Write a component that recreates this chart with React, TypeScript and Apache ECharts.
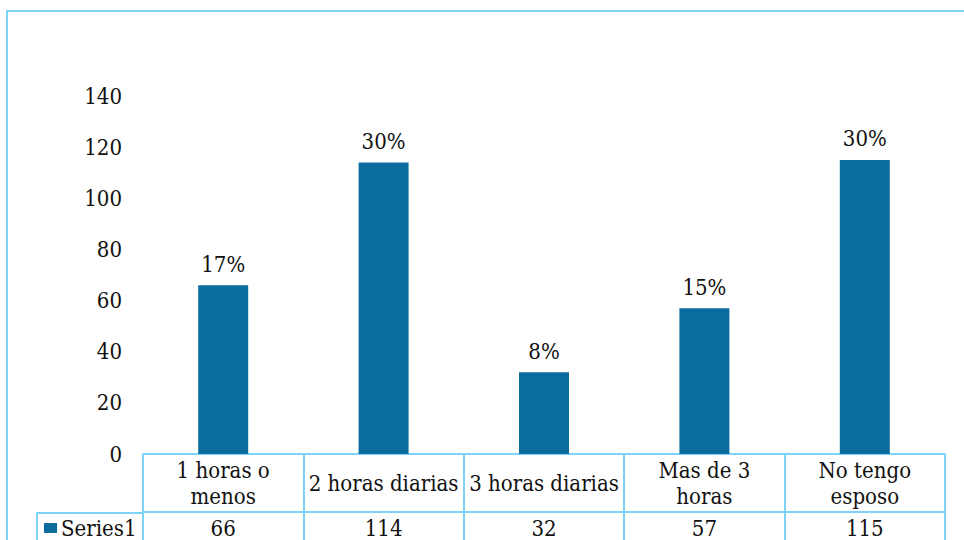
import React, { useEffect, useRef } from "react";
import * as echarts from "echarts";

// Horas diarias de ayuda del esposo
const categories = [
  "1 horas o\nmenos",
  "2 horas diarias",
  "3 horas diarias",
  "Mas de 3\nhoras",
  "No tengo\nesposo",
];
const values = [66, 114, 32, 57, 115];
const seriesName = "Series1";
const yTicks = { min: 0, max: 140, interval: 20 };

const FONT = "'DejaVu Serif Condensed', 'DejaVu Serif', serif";
const FS = 22;
const BAR = "#0b6d9e";
const LINE = "#7dd3f8";

export default function App() {
  const ref = useRef<HTMLDivElement>(null);

  useEffect(() => {
    if (!ref.current) return;
    const chart = echarts.init(ref.current, null, { renderer: "svg" });
    const total = values.reduce((a, b) => a + b, 0);

    chart.setOption({
      animation: false,
      backgroundColor: "#ffffff",
      textStyle: { fontFamily: FONT },
      grid: { left: 143, right: 19, top: 96, bottom: 86, containLabel: false },
      legend: {
        left: 44,
        top: 515,
        padding: 0,
        icon: "rect",
        itemWidth: 13,
        itemHeight: 10,
        data: [seriesName],
        textStyle: { fontFamily: FONT, fontSize: FS, color: "#111", lineHeight: 26, padding: [0, 0, 0, -1] },
      },
      xAxis: [
        {
          type: "category",
          data: categories,
          position: "bottom",
          axisLine: { show: true, lineStyle: { color: LINE, width: 2 } },
          axisTick: { show: true, length: 58, lineStyle: { color: LINE, width: 2 } },
          axisLabel: {
            interval: 0,
            margin: 29,
            verticalAlign: "middle",
            fontFamily: FONT,
            fontSize: FS,
            lineHeight: 26,
            color: "#111",
          },
        },
        {
          type: "category",
          data: categories,
          position: "bottom",
          offset: 58,
          axisLine: { show: true, lineStyle: { color: LINE, width: 2 } },
          axisTick: { show: true, length: 40, lineStyle: { color: LINE, width: 2 } },
          axisLabel: {
            interval: 0,
            margin: 16,
            verticalAlign: "middle",
            fontFamily: FONT,
            fontSize: FS,
            color: "#111",
            formatter: (_v: string, i: number) => String(values[i]),
          },
        },
      ],
      yAxis: {
        type: "value",
        min: yTicks.min,
        max: yTicks.max,
        interval: yTicks.interval,
        axisLine: { show: false },
        axisTick: { show: false },
        splitLine: { show: false },
        axisLabel: { margin: 21, fontFamily: FONT, fontSize: FS, color: "#111" },
      },
      series: [
        {
          name: seriesName,
          type: "bar",
          xAxisIndex: 0,
          data: values,
          barWidth: 50,
          itemStyle: { color: BAR },
          label: {
            show: true,
            position: "top",
            distance: 10,
            fontFamily: FONT,
            fontSize: FS,
            color: "#111",
            formatter: (p: any) => Math.round((p.value / total) * 100) + "%",
          },
        },
      ],
      graphic: [
        // outer frame of the chart area
        {
          type: "rect",
          shape: { x: 7, y: 11, width: 1100, height: 700 },
          style: { fill: "none", stroke: LINE, lineWidth: 2 },
          silent: true,
        },
        // legend cell of the data table
        {
          type: "line",
          shape: { x1: 37, y1: 513, x2: 143, y2: 513 },
          style: { stroke: LINE, lineWidth: 2 },
          silent: true,
        },
        {
          type: "line",
          shape: { x1: 37, y1: 512, x2: 37, y2: 560 },
          style: { stroke: LINE, lineWidth: 2 },
          silent: true,
        },
      ],
    });

    return () => chart.dispose();
  }, []);

  return (
    <div
      ref={ref}
      style={{ position: "fixed", left: 0, top: 0, width: 964, height: 540, background: "#fff" }}
    />
  );
}
